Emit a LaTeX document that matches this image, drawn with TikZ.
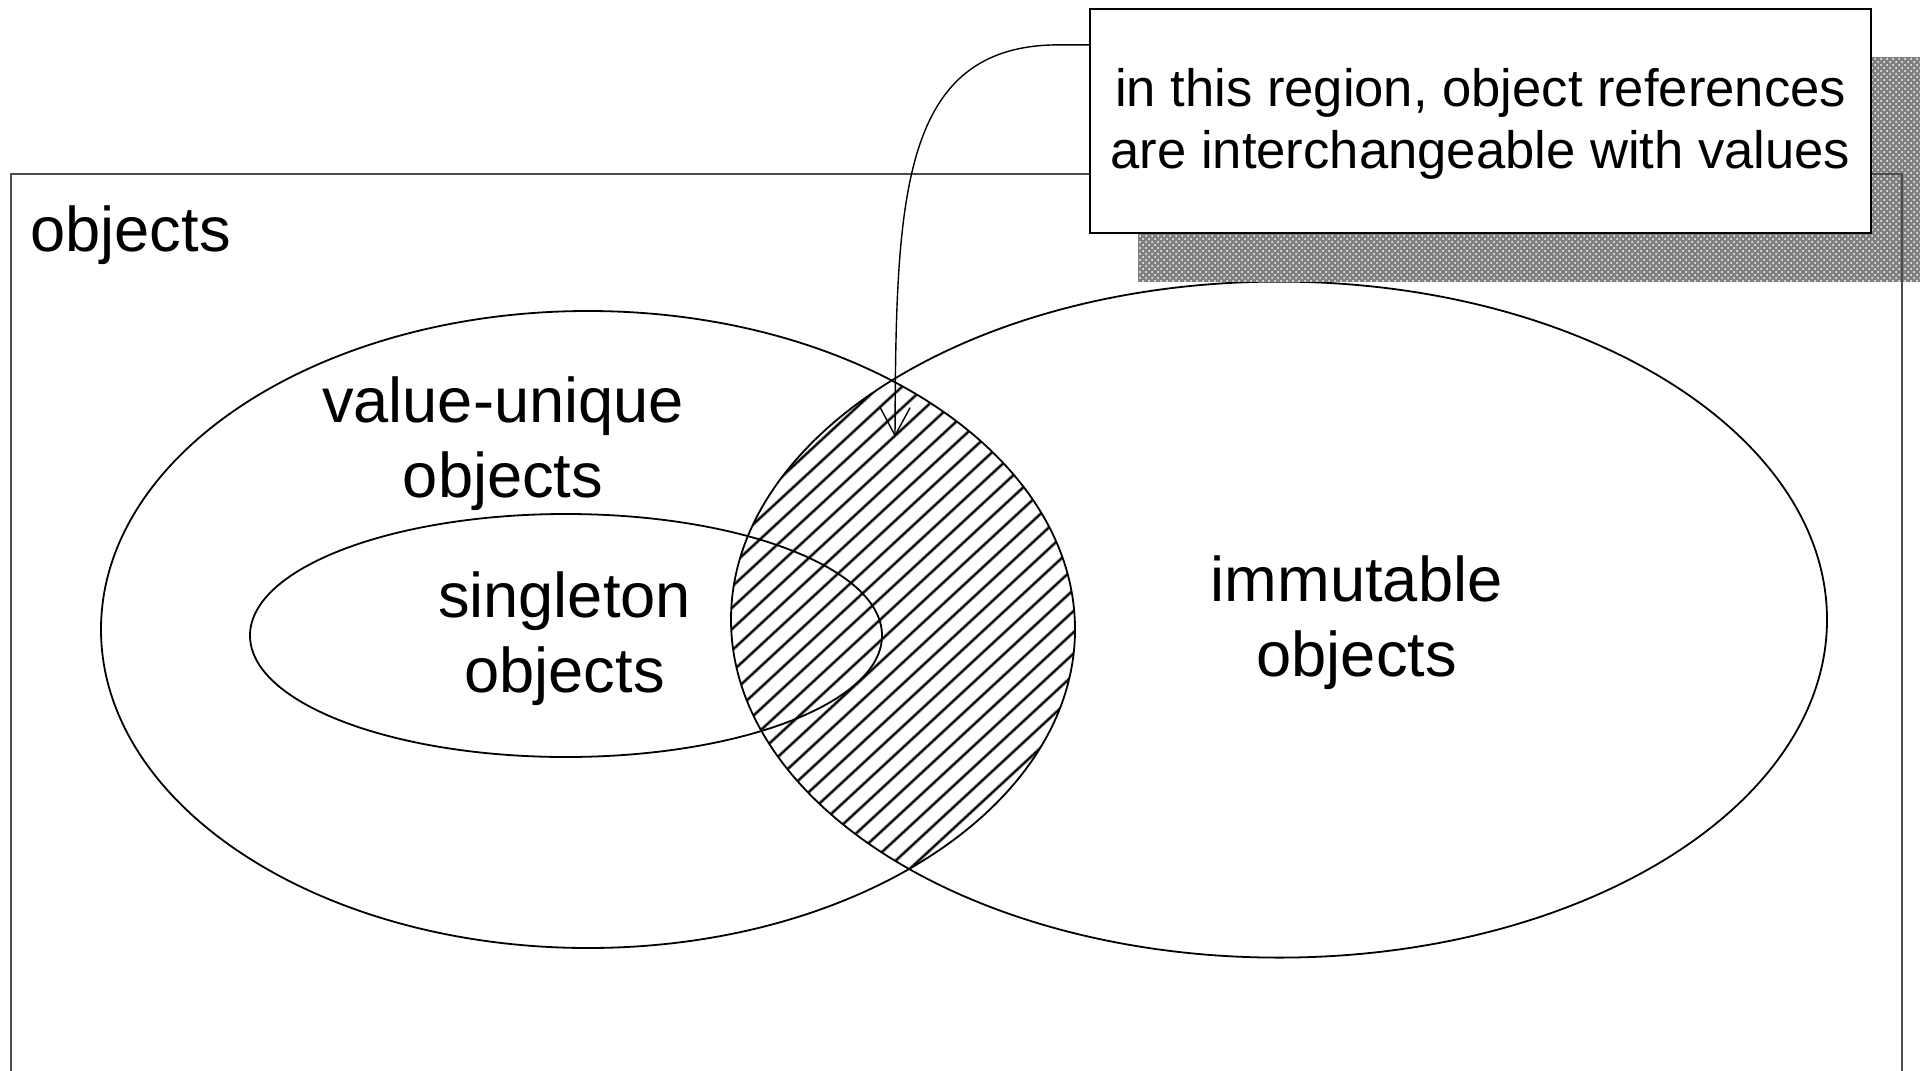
\documentclass[tikz,border=0pt]{standalone}
\usepackage{fontspec}
\setmainfont{Liberation Sans}
\usetikzlibrary{arrows.meta,calc,patterns}
\begin{document}
\begin{tikzpicture}[x=0.5pt,y=-0.5pt,
  setline/.style={line width=0.9pt},
  hatchbase/.style={line width=1.7pt, draw=black!45},
  hatchcore/.style={line width=0.8pt, draw=black},
  lbl/.style={align=center, inner sep=0pt, font=\fontsize{31.6}{37.4}\selectfont},
  calloutbox/.style={draw, line width=0.9pt, fill=white, minimum width=390.5pt, minimum height=112.25pt, inner sep=0pt, align=center, font=\fontsize{26.3}{31.2}\selectfont},
  framelines/.style={line width=0.7pt, draw=black!70},
  shadowfill/.style={fill=black!50},
  connector/.style={line width=0.7pt, -{Straight Barb[length=14pt,width=15pt,line width=0.7pt]}}
]
\useasboundingbox[fill=white] (0,0) rectangle (1920,1070);
% hatched intersection
\begin{scope}
  \clip (588,629.5) ellipse [x radius=487, y radius=318.5];
  \clip (1279,619.6) ellipse [x radius=548, y radius=338];
  \foreach \i in {0,...,50} {
    \draw[hatchbase] ({-60+\i*23},1000) -- ++(800,-740);
    \draw[hatchcore] ({-60+\i*23},1000) -- ++(800,-740);
  }
\end{scope}
% ellipses
\draw[setline] (588,629.5) ellipse [x radius=487, y radius=318.5];
\draw[setline] (1279,619.6) ellipse [x radius=548, y radius=338];
\draw[setline] (566,635.5) ellipse [x radius=316, y radius=121.5];
% shadow of the callout
\fill[shadowfill] (1138,57) rectangle (1920,282);
\fill[pattern=crosshatch dots, pattern color=white] (1138,57) rectangle (1920,282);
% outer frame (open at the bottom)
\draw[framelines] (11,1090) -- (11,174) -- (1902,174) -- (1902,1090);
% labels
\node[lbl, anchor=base west] (objlbl) at (30,251) {objects};
\node[lbl] (vu) at (503,444) {value-unique\\objects};
\node[lbl] (sg) at (564.5,639) {singleton\\objects};
\node[lbl] (im) at (1356.7,623) {immutable\\objects};
% callout
\node[calloutbox] (callout) at (1480.5,121) {\raisebox{-1.5pt}[\height][\depth]{\parbox{390pt}{\centering in this region, object references\\are interchangeable with values}}};
\coordinate (tip) at (895,437);
\draw[connector] ($(callout.north west)+(0,37)$) -- ++(-30,0) .. controls +(-160,0) and (896,200) .. (tip);
\end{tikzpicture}
\end{document}
